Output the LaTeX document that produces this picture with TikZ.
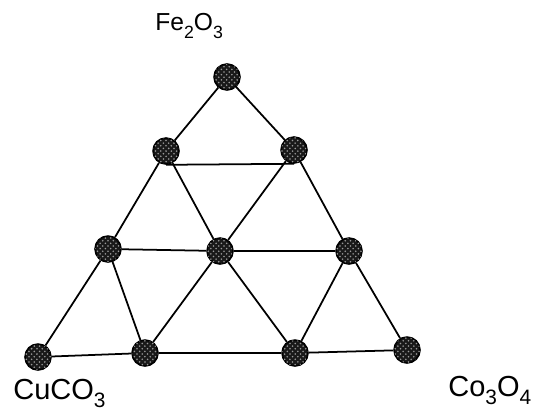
\documentclass[tikz,border=0pt]{standalone}
\usepackage{fontspec}
\setmainfont{Liberation Sans}
\usetikzlibrary{patterns}
\newcommand{\chemsub}[1]{\raisebox{-0.55ex}{\scalebox{0.72}{#1}}}

\begin{document}
\begin{tikzpicture}[x=0.02cm, y=-0.02cm,
  grain/.style={circle, draw=black, line width=0.9pt, minimum size=0.52cm, inner sep=0pt,
    fill=black!90, postaction={pattern=crosshatch dots, pattern color=black!40}},
  tie/.style={line width=1pt},
  oxide/.style={inner sep=0pt, anchor=base west}]
\useasboundingbox (0,0) rectangle (536,412);

% Grain sites, row by row from the top
\node[grain] (apex) at (227,77) {};
\node[grain] (m1) at (166,151) {};
\node[grain] (m2) at (294,150) {};
\node[grain] (c1) at (108,249) {};
\node[grain] (c2) at (220,251) {};
\node[grain] (c3) at (349,251) {};
\node[grain] (b1) at (38,357) {};
\node[grain] (b2) at (145,353) {};
\node[grain] (b3) at (295,353) {};
\node[grain] (b4) at (407,350) {};

% Ties between sites
\draw[tie] (apex) -- (m1) (apex) -- (m2) (m1.south) -- (m2.south);
\draw[tie] (m1) -- (c1) (m1) -- (c2) (m2) -- (c2) (m2) -- (c3);
\draw[tie] (c1) -- (c2) -- (c3);
\draw[tie] (c1) -- (b1) (c1) -- (b2) (c2) -- (b2) (c2) -- (b3) (c3) -- (b3) (c3) -- (b4);
\draw[tie] (b1) -- (b2) -- (b3) -- (b4);

% Corner compounds
\node[oxide, font=\fontsize{14}{16}\selectfont] (fe) at (155,31) {Fe\chemsub{2}O\chemsub{3}};
\node[oxide, font=\fontsize{16.5}{19}\selectfont] (cu) at (13,399) {CuCO\chemsub{3}};
\node[oxide, font=\fontsize{16.5}{19}\selectfont] (co) at (448,396) {Co\chemsub{3}O\chemsub{4}};
\end{tikzpicture}
\end{document}
